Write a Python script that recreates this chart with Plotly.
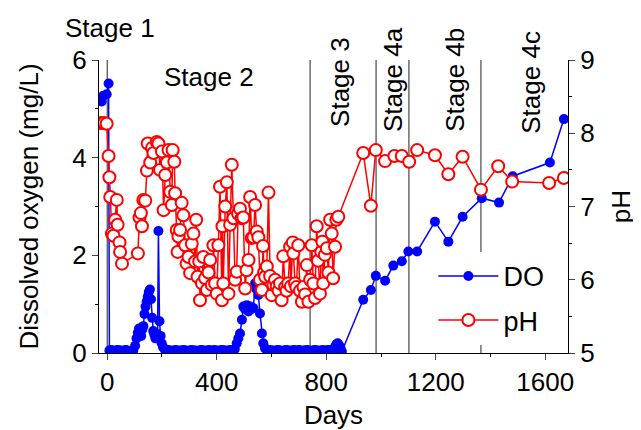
import plotly.graph_objects as go

# ---------------- Data ----------------
do_days = [-20, -14, -2, 5,
           8, 14, 20, 26, 32, 38, 44, 50, 56, 62, 68, 74,
           95, 102, 107, 112, 116, 120, 124, 128, 132, 136, 140, 144, 148, 152, 156, 160,
           164, 168, 172, 176, 180, 184, 187, 191, 195, 199, 204, 210,
           217, 224, 231, 238, 245, 252, 259, 266, 273, 280, 287, 294, 301, 308, 315, 322,
           329, 336, 343, 350, 357, 364, 371, 378, 385, 392, 399, 406, 413, 420, 427, 434,
           441, 448, 454,
           460, 466, 473, 479, 485, 492, 497, 503, 510, 516, 522, 528, 534, 540, 546, 552,
           558, 565, 570, 576, 583,
           590, 597, 604, 611, 618, 625, 632, 639, 646, 653, 660, 667, 674, 681, 688, 695,
           702, 709, 716, 723, 730, 737, 744, 751, 758, 765, 772, 779, 786, 793, 800, 807,
           814, 821,
           827, 832, 837, 842, 847, 852, 857,
           935, 963, 981, 1015, 1045, 1076, 1100, 1132, 1197, 1246, 1298, 1368, 1431, 1481,
           1617, 1668]
do_vals = [5.15, 5.27, 5.30, 5.52,
           0.05, 0.06, 0.05, 0.04, 0.05, 0.06, 0.05, 0.05, 0.04, 0.05, 0.06, 0.05,
           0.05, 0.15, 0.30, 0.42, 0.50, 0.45, 0.35, 0.48, 0.55, 0.80, 0.95, 1.05, 1.15, 1.25, 1.30, 1.10,
           0.72, 0.45, 0.38, 0.30, 0.40, 0.38, 2.50, 0.65, 0.35, 0.20, 0.12, 0.07,
           0.05, 0.06, 0.04, 0.05, 0.05, 0.06, 0.04, 0.05, 0.05, 0.06, 0.05, 0.04, 0.05, 0.06, 0.05, 0.05,
           0.04, 0.05, 0.06, 0.05, 0.05, 0.04, 0.06, 0.05, 0.05, 0.06, 0.04, 0.05, 0.05, 0.06, 0.05, 0.05,
           0.04, 0.06, 0.05,
           0.05, 0.08, 0.20, 0.30, 0.40, 0.68, 0.95, 0.90, 0.98, 0.85, 0.95, 0.90, 0.92, 1.43, 1.30, 1.19,
           0.81, 0.40, 0.20, 0.10, 0.06,
           0.05, 0.06, 0.04, 0.05, 0.05, 0.06, 0.05, 0.04, 0.05, 0.06, 0.05, 0.05, 0.04, 0.06, 0.05, 0.05,
           0.06, 0.04, 0.05, 0.05, 0.06, 0.05, 0.04, 0.05, 0.06, 0.05, 0.05, 0.04, 0.06, 0.05, 0.05, 0.06,
           0.05, 0.06,
           0.08, 0.12, 0.18, 0.20, 0.16, 0.10, 0.03,
           1.09, 1.29, 1.58, 1.48, 1.79, 1.88, 2.08, 2.08, 2.69, 2.28, 2.79, 3.17, 3.08, 3.62,
           3.90, 4.79]

ph_days = [-22, -11, -2, 5, 8, 11, 17, 23, 29, 35, 38, 45, 47, 54,
           112, 118, 123, 127, 132, 139, 145, 148, 157, 164, 169, 181, 187, 193, 200, 206,
           212, 218, 224, 230, 236, 239, 245, 248, 254, 257, 260, 266, 272, 278, 285, 290,
           297, 303, 309, 315, 321, 325, 330, 336, 339, 346, 351, 358, 364, 370, 376, 382,
           388, 394, 400, 406, 412, 419, 421, 424, 431, 437, 443, 449, 455, 461, 467, 473,
           478, 485, 491, 497, 504, 509, 516, 522, 528, 534, 540, 546, 552, 558, 565, 569,
           573, 577, 583, 589, 595, 601, 607, 613, 619, 626, 631, 637, 643, 650, 655, 661,
           668, 671, 678, 680, 686, 691, 698, 704, 711, 717, 723, 729, 735, 741, 747, 753,
           759, 765, 770, 777, 782, 786, 789, 795, 802, 808, 814, 820, 825, 832, 837, 844,
           935, 963, 981, 1015, 1049, 1076, 1103, 1132, 1197, 1246, 1298, 1365, 1428, 1479,
           1614, 1668]
ph_vals = [8.14, 8.14, 8.13, 7.69, 7.40, 7.13, 6.63, 6.60, 6.82, 7.09, 6.75, 6.51, 6.38, 6.22,
           6.36, 6.85, 6.91, 6.73, 7.09, 7.08, 7.49, 7.86, 7.60, 7.80, 7.73, 7.88, 7.86, 7.50, 7.75, 6.95,
           7.43, 7.60, 7.77, 7.20, 7.02, 7.77, 7.61, 7.18, 6.68, 6.38, 6.59, 6.68, 7.05, 6.88, 6.47, 6.22,
           6.31, 6.09, 6.49, 6.63, 6.25, 6.82, 6.04, 6.25, 5.72, 5.95, 6.31, 6.02, 5.86, 6.10, 6.27, 5.93,
           6.47, 5.95, 5.81, 6.47, 7.27, 5.72, 6.73, 5.95, 7.00, 7.33, 5.81, 6.75, 7.57, 6.84, 6.00, 6.11,
           6.90, 6.97, 6.84, 6.85, 5.88, 6.13, 6.27, 7.13, 6.57, 6.58, 7.02, 6.66, 6.58, 6.00, 5.86, 6.46,
           6.10, 6.04, 6.18, 7.19, 6.05, 5.79, 5.93, 6.00, 5.91, 5.85, 5.95, 5.72, 6.32, 5.90, 5.85, 5.95,
           6.45, 5.91, 6.51, 6.36, 5.95, 5.90, 6.47, 5.85, 5.70, 5.90, 5.80, 6.20, 5.70, 6.00, 6.47, 5.95,
           5.75, 6.73, 6.26, 5.81, 6.38, 6.52, 5.95, 6.34, 6.43, 6.10, 6.82, 6.63, 6.02, 6.45, 6.82, 6.86,
           7.73, 7.01, 7.77, 7.62, 7.69, 7.69, 7.61, 7.77, 7.70, 7.44, 7.68, 7.23, 7.55, 7.34,
           7.32, 7.39]

stage_bounds = [0, 741, 982, 1102, 1365]
stage_labels = ["Stage 1", "Stage 2", "Stage 3", "Stage 4a", "Stage 4b", "Stage 4c"]
stage_label_x = [11, 372, 850, 1044, 1270, 1547]
stage_label_y = [1.109, 0.942, 0.925, 0.932, 0.932, 0.925]
stage_label_angle = [0, 0, -90, -90, -90, -90]

x_ticks = [0, 400, 800, 1200, 1600]
do_ticks = [0, 2, 4, 6]
ph_ticks = [5, 6, 7, 8, 9]

FONT = "Liberation Sans, Arial, sans-serif"
FS = 26

fig = go.Figure()
fig.add_trace(go.Scatter(
    x=do_days, y=do_vals, name="DO", mode="lines+markers",
    line=dict(color="#0000ff", width=1.5),
    marker=dict(color="#0000ff", size=10, symbol="circle"),
    yaxis="y", legendgroup="a"))
fig.add_trace(go.Scatter(
    x=ph_days, y=ph_vals, name="pH", mode="lines+markers",
    line=dict(color="#ff0000", width=1.5),
    marker=dict(color="white", size=12, symbol="circle",
                line=dict(color="#ff0000", width=2)),
    yaxis="y2", legendgroup="b"))

shapes = []
for b in stage_bounds:
    shapes.append(dict(type="line", xref="x", yref="paper", x0=b, x1=b, y0=0, y1=1,
                       line=dict(color="#222222", width=1), layer="below"))

annotations = []
for lab, lx, ly, ang in zip(stage_labels, stage_label_x, stage_label_y, stage_label_angle):
    annotations.append(dict(text=lab, x=lx, y=ly, xref="x", yref="paper", showarrow=False,
                            textangle=ang, font=dict(size=FS, color="black", family=FONT),
                            xanchor="center", yanchor="middle"))

# page body has an 8px default margin: the figure is sized to fit the window after that offset
fig.update_layout(
    width=633, height=422,
    margin=dict(l=91, r=73, t=52, b=77, autoexpand=False),
    paper_bgcolor="white", plot_bgcolor="white",
    font=dict(family=FONT, color="black", size=FS),
    showlegend=True,
    legend=dict(x=0.713, y=0.345, xanchor="left", yanchor="top",
                bgcolor="white", borderwidth=0, font=dict(size=27),
                itemwidth=60, traceorder="grouped", tracegroupgap=6),
    xaxis=dict(range=[-30, 1683], tickvals=x_ticks, ticks="outside", ticklen=6,
               showline=True, linecolor="black", linewidth=1, showgrid=False, zeroline=False,
               tickfont=dict(size=FS), automargin=False,
               minor=dict(dtick=200, ticks="outside", ticklen=3, tickcolor="black"),
               title=dict(text="Days", font=dict(size=FS), standoff=10)),
    yaxis=dict(range=[0, 6], tickvals=do_ticks, ticks="outside", ticklen=6,
               showline=True, linecolor="black", linewidth=1, showgrid=False, zeroline=False,
               tickfont=dict(size=FS), automargin=False,
               minor=dict(dtick=1, ticks="outside", ticklen=3, tickcolor="black"),
               title=dict(text="Dissolved oxygen (mg/L)", font=dict(size=FS), standoff=26)),
    yaxis2=dict(range=[5, 9], tickvals=ph_ticks, ticks="outside", ticklen=6, overlaying="y",
                side="right", showline=True, linecolor="black", linewidth=1, showgrid=False,
                zeroline=False, tickfont=dict(size=FS), automargin=False,
                minor=dict(dtick=0.5, ticks="outside", ticklen=3, tickcolor="black"),
                title=dict(text="pH", font=dict(size=FS), standoff=18)),
    shapes=shapes, annotations=annotations,
)

fig.write_html("out.html")
